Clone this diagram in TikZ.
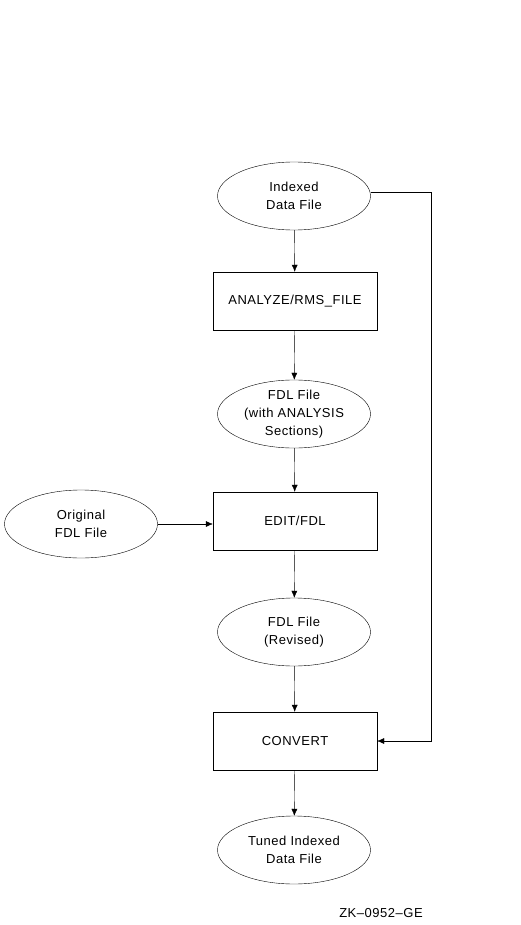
\documentclass[tikz,border=0pt]{standalone}
\usepackage{fontspec}
\setmainfont{Liberation Sans}[LetterSpace=4]
\usetikzlibrary{shapes.geometric,arrows.meta}
\begin{document}
\begin{tikzpicture}[x=1pt,y=-1pt,
  file/.style={draw,ellipse,minimum width=153pt,minimum height=68pt,inner sep=0pt,align=center,font=\fontsize{13}{18}\selectfont},
  prog/.style={draw,rectangle,minimum width=164pt,minimum height=58pt,inner sep=0pt,align=center,font=\fontsize{13}{18}\selectfont},
  flow/.style={-{Latex[length=7pt,width=6pt]}}]
\useasboundingbox (0,0) rectangle (520,925);
\node [file] (idx) at (294,196) {Indexed\\Data File};
\node [prog] (anl) at (295,301) {ANALYZE/RMS\_FILE};
\node [file] (fdla) at (294,414) {FDL File\\(with ANALYSIS\\Sections)};
\node [file] (orig) at (81,524) {Original\\FDL File};
\node [prog] (edt) at (295,521) {EDIT/FDL};
\node [file] (fdlr) at (294,632) {FDL File\\(Revised)};
\node [prog] (cnv) at (295,741) {CONVERT};
\node [file] (tnd) at (294,850) {Tuned Indexed\\Data File};
\node (tag) at (381,913) {\fontsize{13}{15}\selectfont ZK--0952--GE};
\coordinate (c1) at (431,192);
\coordinate (c2) at (431,741);
\draw [flow] (idx) -- (anl);
\draw [flow] (anl) -- (fdla);
\draw [flow] (fdla) -- (edt);
\draw [flow] (orig) -- (edt.west |- orig);
\draw [flow] (edt) -- (fdlr);
\draw [flow] (fdlr) -- (cnv);
\draw [flow] (cnv) -- (tnd);
\draw [flow] (idx.east |- c1) -- (c1) -- (c2) -- (cnv.east);
\end{tikzpicture}
\end{document}
